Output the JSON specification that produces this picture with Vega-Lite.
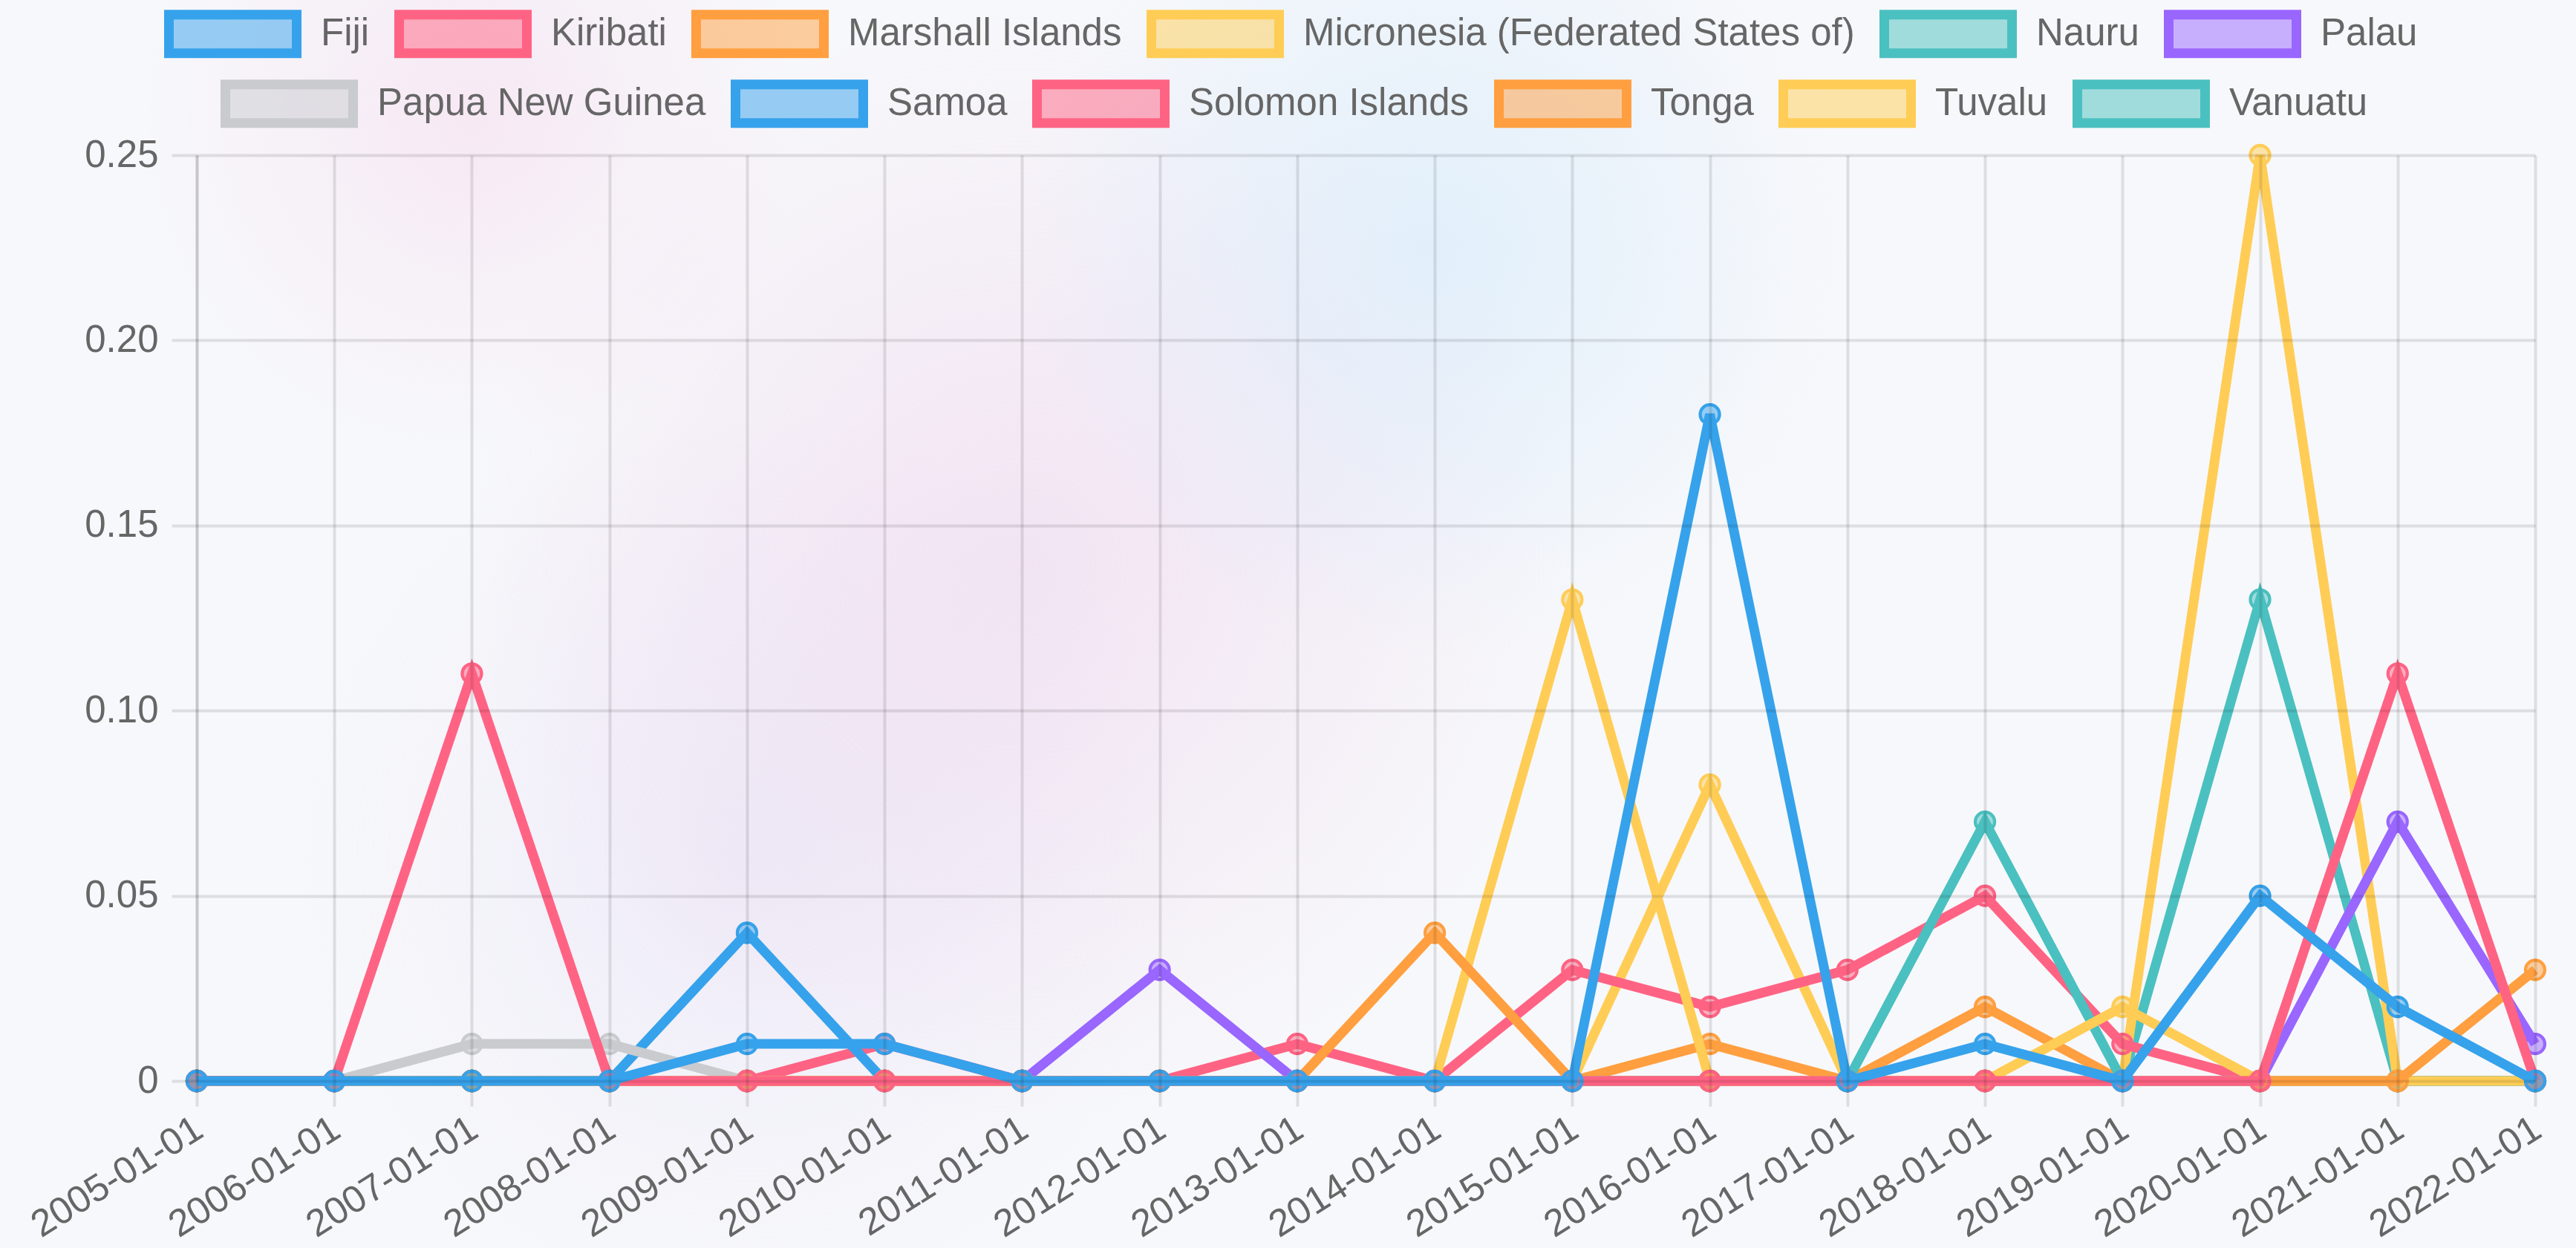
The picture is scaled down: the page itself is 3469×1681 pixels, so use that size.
{
  "$schema": "https://vega.github.io/schema/vega-lite/v6.json",
  "width": 3149,
  "height": 1247,
  "autosize": {"type": "none"},
  "padding": {"left": 265, "top": 209, "right": 55, "bottom": 225},
  "background": "#f7f8fb",
  "config": {
    "view": {"stroke": null},
    "font": "Liberation Sans"
  },
  "data": {
    "values": [
      {"c": "Fiji", "d": "2005-01-01", "v": 0}, {"c": "Fiji", "d": "2006-01-01", "v": 0}, {"c": "Fiji", "d": "2007-01-01", "v": 0}, {"c": "Fiji", "d": "2008-01-01", "v": 0}, {"c": "Fiji", "d": "2009-01-01", "v": 0.01}, {"c": "Fiji", "d": "2010-01-01", "v": 0.01}, {"c": "Fiji", "d": "2011-01-01", "v": 0}, {"c": "Fiji", "d": "2012-01-01", "v": 0}, {"c": "Fiji", "d": "2013-01-01", "v": 0}, {"c": "Fiji", "d": "2014-01-01", "v": 0}, {"c": "Fiji", "d": "2015-01-01", "v": 0}, {"c": "Fiji", "d": "2016-01-01", "v": 0.18}, {"c": "Fiji", "d": "2017-01-01", "v": 0}, {"c": "Fiji", "d": "2018-01-01", "v": 0.01}, {"c": "Fiji", "d": "2019-01-01", "v": 0}, {"c": "Fiji", "d": "2020-01-01", "v": 0.05}, {"c": "Fiji", "d": "2021-01-01", "v": 0.02}, {"c": "Fiji", "d": "2022-01-01", "v": 0},
      {"c": "Kiribati", "d": "2005-01-01", "v": 0}, {"c": "Kiribati", "d": "2006-01-01", "v": 0}, {"c": "Kiribati", "d": "2007-01-01", "v": 0.11}, {"c": "Kiribati", "d": "2008-01-01", "v": 0}, {"c": "Kiribati", "d": "2009-01-01", "v": 0}, {"c": "Kiribati", "d": "2010-01-01", "v": 0}, {"c": "Kiribati", "d": "2011-01-01", "v": 0}, {"c": "Kiribati", "d": "2012-01-01", "v": 0}, {"c": "Kiribati", "d": "2013-01-01", "v": 0}, {"c": "Kiribati", "d": "2014-01-01", "v": 0}, {"c": "Kiribati", "d": "2015-01-01", "v": 0}, {"c": "Kiribati", "d": "2016-01-01", "v": 0}, {"c": "Kiribati", "d": "2017-01-01", "v": 0}, {"c": "Kiribati", "d": "2018-01-01", "v": 0}, {"c": "Kiribati", "d": "2019-01-01", "v": 0}, {"c": "Kiribati", "d": "2020-01-01", "v": 0}, {"c": "Kiribati", "d": "2021-01-01", "v": 0.11}, {"c": "Kiribati", "d": "2022-01-01", "v": 0},
      {"c": "Marshall Islands", "d": "2005-01-01", "v": 0}, {"c": "Marshall Islands", "d": "2006-01-01", "v": 0}, {"c": "Marshall Islands", "d": "2007-01-01", "v": 0}, {"c": "Marshall Islands", "d": "2008-01-01", "v": 0}, {"c": "Marshall Islands", "d": "2009-01-01", "v": 0}, {"c": "Marshall Islands", "d": "2010-01-01", "v": 0}, {"c": "Marshall Islands", "d": "2011-01-01", "v": 0}, {"c": "Marshall Islands", "d": "2012-01-01", "v": 0}, {"c": "Marshall Islands", "d": "2013-01-01", "v": 0}, {"c": "Marshall Islands", "d": "2014-01-01", "v": 0.04}, {"c": "Marshall Islands", "d": "2015-01-01", "v": 0}, {"c": "Marshall Islands", "d": "2016-01-01", "v": 0}, {"c": "Marshall Islands", "d": "2017-01-01", "v": 0}, {"c": "Marshall Islands", "d": "2018-01-01", "v": 0}, {"c": "Marshall Islands", "d": "2019-01-01", "v": 0}, {"c": "Marshall Islands", "d": "2020-01-01", "v": 0}, {"c": "Marshall Islands", "d": "2021-01-01", "v": 0}, {"c": "Marshall Islands", "d": "2022-01-01", "v": 0.03},
      {"c": "Micronesia (Federated States of)", "d": "2005-01-01", "v": 0}, {"c": "Micronesia (Federated States of)", "d": "2006-01-01", "v": 0}, {"c": "Micronesia (Federated States of)", "d": "2007-01-01", "v": 0}, {"c": "Micronesia (Federated States of)", "d": "2008-01-01", "v": 0}, {"c": "Micronesia (Federated States of)", "d": "2009-01-01", "v": 0}, {"c": "Micronesia (Federated States of)", "d": "2010-01-01", "v": 0}, {"c": "Micronesia (Federated States of)", "d": "2011-01-01", "v": 0}, {"c": "Micronesia (Federated States of)", "d": "2012-01-01", "v": 0}, {"c": "Micronesia (Federated States of)", "d": "2013-01-01", "v": 0}, {"c": "Micronesia (Federated States of)", "d": "2014-01-01", "v": 0}, {"c": "Micronesia (Federated States of)", "d": "2015-01-01", "v": 0.13}, {"c": "Micronesia (Federated States of)", "d": "2016-01-01", "v": 0}, {"c": "Micronesia (Federated States of)", "d": "2017-01-01", "v": 0}, {"c": "Micronesia (Federated States of)", "d": "2018-01-01", "v": 0}, {"c": "Micronesia (Federated States of)", "d": "2019-01-01", "v": 0.02}, {"c": "Micronesia (Federated States of)", "d": "2020-01-01", "v": 0}, {"c": "Micronesia (Federated States of)", "d": "2021-01-01", "v": 0}, {"c": "Micronesia (Federated States of)", "d": "2022-01-01", "v": 0},
      {"c": "Nauru", "d": "2005-01-01", "v": 0}, {"c": "Nauru", "d": "2006-01-01", "v": 0}, {"c": "Nauru", "d": "2007-01-01", "v": 0}, {"c": "Nauru", "d": "2008-01-01", "v": 0}, {"c": "Nauru", "d": "2009-01-01", "v": 0}, {"c": "Nauru", "d": "2010-01-01", "v": 0}, {"c": "Nauru", "d": "2011-01-01", "v": 0}, {"c": "Nauru", "d": "2012-01-01", "v": 0}, {"c": "Nauru", "d": "2013-01-01", "v": 0}, {"c": "Nauru", "d": "2014-01-01", "v": 0}, {"c": "Nauru", "d": "2015-01-01", "v": 0}, {"c": "Nauru", "d": "2016-01-01", "v": 0}, {"c": "Nauru", "d": "2017-01-01", "v": 0}, {"c": "Nauru", "d": "2018-01-01", "v": 0.07}, {"c": "Nauru", "d": "2019-01-01", "v": 0}, {"c": "Nauru", "d": "2020-01-01", "v": 0}, {"c": "Nauru", "d": "2021-01-01", "v": 0}, {"c": "Nauru", "d": "2022-01-01", "v": 0},
      {"c": "Palau", "d": "2005-01-01", "v": 0}, {"c": "Palau", "d": "2006-01-01", "v": 0}, {"c": "Palau", "d": "2007-01-01", "v": 0}, {"c": "Palau", "d": "2008-01-01", "v": 0}, {"c": "Palau", "d": "2009-01-01", "v": 0}, {"c": "Palau", "d": "2010-01-01", "v": 0}, {"c": "Palau", "d": "2011-01-01", "v": 0}, {"c": "Palau", "d": "2012-01-01", "v": 0.03}, {"c": "Palau", "d": "2013-01-01", "v": 0}, {"c": "Palau", "d": "2014-01-01", "v": 0}, {"c": "Palau", "d": "2015-01-01", "v": 0}, {"c": "Palau", "d": "2016-01-01", "v": 0}, {"c": "Palau", "d": "2017-01-01", "v": 0}, {"c": "Palau", "d": "2018-01-01", "v": 0}, {"c": "Palau", "d": "2019-01-01", "v": 0}, {"c": "Palau", "d": "2020-01-01", "v": 0}, {"c": "Palau", "d": "2021-01-01", "v": 0.07}, {"c": "Palau", "d": "2022-01-01", "v": 0.01},
      {"c": "Papua New Guinea", "d": "2005-01-01", "v": 0}, {"c": "Papua New Guinea", "d": "2006-01-01", "v": 0}, {"c": "Papua New Guinea", "d": "2007-01-01", "v": 0.01}, {"c": "Papua New Guinea", "d": "2008-01-01", "v": 0.01}, {"c": "Papua New Guinea", "d": "2009-01-01", "v": 0}, {"c": "Papua New Guinea", "d": "2010-01-01", "v": 0}, {"c": "Papua New Guinea", "d": "2011-01-01", "v": 0}, {"c": "Papua New Guinea", "d": "2012-01-01", "v": 0}, {"c": "Papua New Guinea", "d": "2013-01-01", "v": 0}, {"c": "Papua New Guinea", "d": "2014-01-01", "v": 0}, {"c": "Papua New Guinea", "d": "2015-01-01", "v": 0}, {"c": "Papua New Guinea", "d": "2016-01-01", "v": 0}, {"c": "Papua New Guinea", "d": "2017-01-01", "v": 0}, {"c": "Papua New Guinea", "d": "2018-01-01", "v": 0}, {"c": "Papua New Guinea", "d": "2019-01-01", "v": 0}, {"c": "Papua New Guinea", "d": "2020-01-01", "v": 0}, {"c": "Papua New Guinea", "d": "2021-01-01", "v": 0}, {"c": "Papua New Guinea", "d": "2022-01-01", "v": 0},
      {"c": "Samoa", "d": "2005-01-01", "v": 0}, {"c": "Samoa", "d": "2006-01-01", "v": 0}, {"c": "Samoa", "d": "2007-01-01", "v": 0}, {"c": "Samoa", "d": "2008-01-01", "v": 0}, {"c": "Samoa", "d": "2009-01-01", "v": 0.04}, {"c": "Samoa", "d": "2010-01-01", "v": 0}, {"c": "Samoa", "d": "2011-01-01", "v": 0}, {"c": "Samoa", "d": "2012-01-01", "v": 0}, {"c": "Samoa", "d": "2013-01-01", "v": 0}, {"c": "Samoa", "d": "2014-01-01", "v": 0}, {"c": "Samoa", "d": "2015-01-01", "v": 0}, {"c": "Samoa", "d": "2016-01-01", "v": 0}, {"c": "Samoa", "d": "2017-01-01", "v": 0}, {"c": "Samoa", "d": "2018-01-01", "v": 0}, {"c": "Samoa", "d": "2019-01-01", "v": 0}, {"c": "Samoa", "d": "2020-01-01", "v": 0}, {"c": "Samoa", "d": "2021-01-01", "v": 0}, {"c": "Samoa", "d": "2022-01-01", "v": 0},
      {"c": "Solomon Islands", "d": "2005-01-01", "v": 0}, {"c": "Solomon Islands", "d": "2006-01-01", "v": 0}, {"c": "Solomon Islands", "d": "2007-01-01", "v": 0}, {"c": "Solomon Islands", "d": "2008-01-01", "v": 0}, {"c": "Solomon Islands", "d": "2009-01-01", "v": 0}, {"c": "Solomon Islands", "d": "2010-01-01", "v": 0.01}, {"c": "Solomon Islands", "d": "2011-01-01", "v": 0}, {"c": "Solomon Islands", "d": "2012-01-01", "v": 0}, {"c": "Solomon Islands", "d": "2013-01-01", "v": 0.01}, {"c": "Solomon Islands", "d": "2014-01-01", "v": 0}, {"c": "Solomon Islands", "d": "2015-01-01", "v": 0.03}, {"c": "Solomon Islands", "d": "2016-01-01", "v": 0.02}, {"c": "Solomon Islands", "d": "2017-01-01", "v": 0.03}, {"c": "Solomon Islands", "d": "2018-01-01", "v": 0.05}, {"c": "Solomon Islands", "d": "2019-01-01", "v": 0.01}, {"c": "Solomon Islands", "d": "2020-01-01", "v": 0}, {"c": "Solomon Islands", "d": "2021-01-01", "v": 0}, {"c": "Solomon Islands", "d": "2022-01-01", "v": 0},
      {"c": "Tonga", "d": "2005-01-01", "v": 0}, {"c": "Tonga", "d": "2006-01-01", "v": 0}, {"c": "Tonga", "d": "2007-01-01", "v": 0}, {"c": "Tonga", "d": "2008-01-01", "v": 0}, {"c": "Tonga", "d": "2009-01-01", "v": 0}, {"c": "Tonga", "d": "2010-01-01", "v": 0}, {"c": "Tonga", "d": "2011-01-01", "v": 0}, {"c": "Tonga", "d": "2012-01-01", "v": 0}, {"c": "Tonga", "d": "2013-01-01", "v": 0}, {"c": "Tonga", "d": "2014-01-01", "v": 0}, {"c": "Tonga", "d": "2015-01-01", "v": 0}, {"c": "Tonga", "d": "2016-01-01", "v": 0.01}, {"c": "Tonga", "d": "2017-01-01", "v": 0}, {"c": "Tonga", "d": "2018-01-01", "v": 0.02}, {"c": "Tonga", "d": "2019-01-01", "v": 0}, {"c": "Tonga", "d": "2020-01-01", "v": 0}, {"c": "Tonga", "d": "2021-01-01", "v": 0}, {"c": "Tonga", "d": "2022-01-01", "v": 0},
      {"c": "Tuvalu", "d": "2005-01-01", "v": 0}, {"c": "Tuvalu", "d": "2006-01-01", "v": 0}, {"c": "Tuvalu", "d": "2007-01-01", "v": 0}, {"c": "Tuvalu", "d": "2008-01-01", "v": 0}, {"c": "Tuvalu", "d": "2009-01-01", "v": 0}, {"c": "Tuvalu", "d": "2010-01-01", "v": 0}, {"c": "Tuvalu", "d": "2011-01-01", "v": 0}, {"c": "Tuvalu", "d": "2012-01-01", "v": 0}, {"c": "Tuvalu", "d": "2013-01-01", "v": 0}, {"c": "Tuvalu", "d": "2014-01-01", "v": 0}, {"c": "Tuvalu", "d": "2015-01-01", "v": 0}, {"c": "Tuvalu", "d": "2016-01-01", "v": 0.08}, {"c": "Tuvalu", "d": "2017-01-01", "v": 0}, {"c": "Tuvalu", "d": "2018-01-01", "v": 0}, {"c": "Tuvalu", "d": "2019-01-01", "v": 0}, {"c": "Tuvalu", "d": "2020-01-01", "v": 0.25}, {"c": "Tuvalu", "d": "2021-01-01", "v": 0}, {"c": "Tuvalu", "d": "2022-01-01", "v": 0},
      {"c": "Vanuatu", "d": "2005-01-01", "v": 0}, {"c": "Vanuatu", "d": "2006-01-01", "v": 0}, {"c": "Vanuatu", "d": "2007-01-01", "v": 0}, {"c": "Vanuatu", "d": "2008-01-01", "v": 0}, {"c": "Vanuatu", "d": "2009-01-01", "v": 0}, {"c": "Vanuatu", "d": "2010-01-01", "v": 0}, {"c": "Vanuatu", "d": "2011-01-01", "v": 0}, {"c": "Vanuatu", "d": "2012-01-01", "v": 0}, {"c": "Vanuatu", "d": "2013-01-01", "v": 0}, {"c": "Vanuatu", "d": "2014-01-01", "v": 0}, {"c": "Vanuatu", "d": "2015-01-01", "v": 0}, {"c": "Vanuatu", "d": "2016-01-01", "v": 0}, {"c": "Vanuatu", "d": "2017-01-01", "v": 0}, {"c": "Vanuatu", "d": "2018-01-01", "v": 0}, {"c": "Vanuatu", "d": "2019-01-01", "v": 0}, {"c": "Vanuatu", "d": "2020-01-01", "v": 0.13}, {"c": "Vanuatu", "d": "2021-01-01", "v": 0}, {"c": "Vanuatu", "d": "2022-01-01", "v": 0}
    ]
  },
  "encoding": {
    "x": {
      "field": "d", "type": "ordinal", "sort": null,
      "scale": {"type": "point", "padding": 0, "domain": ["2005-01-01", "2006-01-01", "2007-01-01", "2008-01-01", "2009-01-01", "2010-01-01", "2011-01-01", "2012-01-01", "2013-01-01", "2014-01-01", "2015-01-01", "2016-01-01", "2017-01-01", "2018-01-01", "2019-01-01", "2020-01-01", "2021-01-01", "2022-01-01"]},
      "axis": {
        "title": null, "zindex": 1, "grid": true, "gridColor": "#000000", "gridOpacity": 0.1, "gridWidth": 4,
        "domain": false, "ticks": true, "tickSize": 34, "tickColor": "#000000", "tickOpacity": 0.1, "tickWidth": 4,
        "labelAngle": -32, "labelAlign": "right", "labelBaseline": "top", "labelPadding": 5, "labelOffset": -10,
        "labelFont": "Liberation Sans", "labelFontSize": 51, "labelColor": "#666666", "labelOverlap": false, "labelLimit": 0
      }
    },
    "y": {
      "field": "v", "type": "quantitative",
      "scale": {"domain": [0, 0.25], "nice": false, "zero": true},
      "axis": {
        "title": null, "zindex": 1, "values": [0, 0.05, 0.1, 0.15, 0.2, 0.25],
        "labelExpr": "datum.value === 0 ? '0' : format(datum.value, '.2f')",
        "grid": true, "gridColor": "#000000", "gridOpacity": 0.1, "gridWidth": 4,
        "domain": true, "domainColor": "#000000", "domainOpacity": 0.1, "domainWidth": 4,
        "ticks": true, "tickSize": 34, "tickColor": "#000000", "tickOpacity": 0.1, "tickWidth": 4,
        "labelPadding": 18, "labelFont": "Liberation Sans", "labelFontSize": 51, "labelColor": "#666666"
      }
    }
  },
  "layer": [
    {
      "data": {"values": [{"d": "2007-01-01", "v": 0.26}]},
      "mark": {"type": "point", "shape": "circle", "size": 810000, "filled": true, "clip": false, "strokeWidth": 0, "opacity": 1,
        "fill": {"gradient": "radial", "stops": [{"offset": 0, "color": "rgba(246,214,236,0.45)"}, {"offset": 0.5, "color": "rgba(246,214,236,0.22)"}, {"offset": 1, "color": "rgba(246,214,236,0)"}]}}
    },
    {
      "data": {"values": [{"d": "2009-01-01", "v": 0.06}]},
      "mark": {"type": "point", "shape": "circle", "size": 1440000, "filled": true, "clip": false, "strokeWidth": 0, "opacity": 1,
        "fill": {"gradient": "radial", "stops": [{"offset": 0, "color": "rgba(222,212,242,0.35)"}, {"offset": 0.5, "color": "rgba(222,212,242,0.17)"}, {"offset": 1, "color": "rgba(222,212,242,0)"}]}}
    },
    {
      "data": {"values": [{"d": "2011-01-01", "v": 0.14}]},
      "mark": {"type": "point", "shape": "circle", "size": 2250000, "filled": true, "clip": false, "strokeWidth": 0, "opacity": 1,
        "fill": {"gradient": "radial", "stops": [{"offset": 0, "color": "rgba(236,204,232,0.45)"}, {"offset": 0.5, "color": "rgba(236,204,232,0.24)"}, {"offset": 1, "color": "rgba(236,204,232,0)"}]}}
    },
    {
      "data": {"values": [{"d": "2014-01-01", "v": 0.225}]},
      "mark": {"type": "point", "shape": "circle", "size": 1210000, "filled": true, "clip": false, "strokeWidth": 0, "opacity": 1,
        "fill": {"gradient": "radial", "stops": [{"offset": 0, "color": "rgba(205,231,250,0.5)"}, {"offset": 0.5, "color": "rgba(205,231,250,0.27)"}, {"offset": 1, "color": "rgba(205,231,250,0)"}]}}
    },
    {
      "encoding": {
        "color": {
          "field": "c", "type": "nominal",
          "scale": {"domain": ["Papua New Guinea", "Samoa", "Solomon Islands", "Tonga", "Tuvalu", "Vanuatu"], "range": ["#c9cbcf", "#36a2eb", "#ff6384", "#ff9f40", "#ffcd56", "#4bc0c0"]},
          "legend": {
            "title": null, "orient": "none", "legendX": 32, "legendY": -162, "direction": "horizontal", "padding": 0,
            "symbolType": "M-1,-0.302H1V0.302H-1Z", "symbolSize": 29584, "symbolStrokeWidth": 13,
            "labelFont": "Liberation Sans", "labelFontSize": 51, "labelColor": "#666666", "labelOffset": 26, "labelLimit": 3000,
            "columnPadding": 13,
            "encode": {"symbols": {"update": {
              "fill": {"signal": "['#36a2eb','#ff6384','#ff9f40','#ffcd56','#4bc0c0','#9966ff','#c9cbcf','#36a2eb','#ff6384','#ff9f40','#ffcd56','#4bc0c0'][indexof(['Fiji','Kiribati','Marshall Islands','Micronesia (Federated States of)','Nauru','Palau','Papua New Guinea','Samoa','Solomon Islands','Tonga','Tuvalu','Vanuatu'], datum.value)]"},
              "stroke": {"signal": "['#36a2eb','#ff6384','#ff9f40','#ffcd56','#4bc0c0','#9966ff','#c9cbcf','#36a2eb','#ff6384','#ff9f40','#ffcd56','#4bc0c0'][indexof(['Fiji','Kiribati','Marshall Islands','Micronesia (Federated States of)','Nauru','Palau','Papua New Guinea','Samoa','Solomon Islands','Tonga','Tuvalu','Vanuatu'], datum.value)]"},
              "fillOpacity": {"value": 0.5}, "strokeOpacity": {"value": 1}, "opacity": {"value": 1}, "strokeWidth": {"value": 13}
            }}}
          }
        }
      },
      "layer": [
        {"transform": [{"filter": "datum.c === 'Vanuatu'"}], "layer": [
          {"mark": {"type": "line", "strokeWidth": 13}},
          {"mark": {"type": "point", "shape": "circle", "size": 676, "filled": true, "fill": "#4bc0c0", "fillOpacity": 0.5, "stroke": "#4bc0c0", "strokeWidth": 4.3, "opacity": 1}}
        ]},
        {"transform": [{"filter": "datum.c === 'Tuvalu'"}], "layer": [
          {"mark": {"type": "line", "strokeWidth": 13}},
          {"mark": {"type": "point", "shape": "circle", "size": 676, "filled": true, "fill": "#ffcd56", "fillOpacity": 0.5, "stroke": "#ffcd56", "strokeWidth": 4.3, "opacity": 1}}
        ]},
        {"transform": [{"filter": "datum.c === 'Tonga'"}], "layer": [
          {"mark": {"type": "line", "strokeWidth": 13}},
          {"mark": {"type": "point", "shape": "circle", "size": 676, "filled": true, "fill": "#ff9f40", "fillOpacity": 0.5, "stroke": "#ff9f40", "strokeWidth": 4.3, "opacity": 1}}
        ]},
        {"transform": [{"filter": "datum.c === 'Solomon Islands'"}], "layer": [
          {"mark": {"type": "line", "strokeWidth": 13}},
          {"mark": {"type": "point", "shape": "circle", "size": 676, "filled": true, "fill": "#ff6384", "fillOpacity": 0.5, "stroke": "#ff6384", "strokeWidth": 4.3, "opacity": 1}}
        ]},
        {"transform": [{"filter": "datum.c === 'Samoa'"}], "layer": [
          {"mark": {"type": "line", "strokeWidth": 13}},
          {"mark": {"type": "point", "shape": "circle", "size": 676, "filled": true, "fill": "#36a2eb", "fillOpacity": 0.5, "stroke": "#36a2eb", "strokeWidth": 4.3, "opacity": 1}}
        ]},
        {"transform": [{"filter": "datum.c === 'Papua New Guinea'"}], "layer": [
          {"mark": {"type": "line", "strokeWidth": 13}},
          {"mark": {"type": "point", "shape": "circle", "size": 676, "filled": true, "fill": "#c9cbcf", "fillOpacity": 0.5, "stroke": "#c9cbcf", "strokeWidth": 4.3, "opacity": 1}}
        ]}
      ]
    },
    {
      "encoding": {
        "color": {
          "field": "c", "type": "nominal",
          "scale": {"domain": ["Fiji", "Kiribati", "Marshall Islands", "Micronesia (Federated States of)", "Nauru", "Palau"], "range": ["#36a2eb", "#ff6384", "#ff9f40", "#ffcd56", "#4bc0c0", "#9966ff"]},
          "legend": {
            "title": null, "orient": "none", "legendX": -44, "legendY": -256, "direction": "horizontal", "padding": 0,
            "symbolType": "M-1,-0.302H1V0.302H-1Z", "symbolSize": 29584, "symbolStrokeWidth": 13,
            "labelFont": "Liberation Sans", "labelFontSize": 51, "labelColor": "#666666", "labelOffset": 26, "labelLimit": 3000,
            "columnPadding": 13,
            "encode": {"symbols": {"update": {
              "fill": {"signal": "['#36a2eb','#ff6384','#ff9f40','#ffcd56','#4bc0c0','#9966ff','#c9cbcf','#36a2eb','#ff6384','#ff9f40','#ffcd56','#4bc0c0'][indexof(['Fiji','Kiribati','Marshall Islands','Micronesia (Federated States of)','Nauru','Palau','Papua New Guinea','Samoa','Solomon Islands','Tonga','Tuvalu','Vanuatu'], datum.value)]"},
              "stroke": {"signal": "['#36a2eb','#ff6384','#ff9f40','#ffcd56','#4bc0c0','#9966ff','#c9cbcf','#36a2eb','#ff6384','#ff9f40','#ffcd56','#4bc0c0'][indexof(['Fiji','Kiribati','Marshall Islands','Micronesia (Federated States of)','Nauru','Palau','Papua New Guinea','Samoa','Solomon Islands','Tonga','Tuvalu','Vanuatu'], datum.value)]"},
              "fillOpacity": {"value": 0.5}, "strokeOpacity": {"value": 1}, "opacity": {"value": 1}, "strokeWidth": {"value": 13}
            }}}
          }
        }
      },
      "layer": [
        {"transform": [{"filter": "datum.c === 'Palau'"}], "layer": [
          {"mark": {"type": "line", "strokeWidth": 13}},
          {"mark": {"type": "point", "shape": "circle", "size": 676, "filled": true, "fill": "#9966ff", "fillOpacity": 0.5, "stroke": "#9966ff", "strokeWidth": 4.3, "opacity": 1}}
        ]},
        {"transform": [{"filter": "datum.c === 'Nauru'"}], "layer": [
          {"mark": {"type": "line", "strokeWidth": 13}},
          {"mark": {"type": "point", "shape": "circle", "size": 676, "filled": true, "fill": "#4bc0c0", "fillOpacity": 0.5, "stroke": "#4bc0c0", "strokeWidth": 4.3, "opacity": 1}}
        ]},
        {"transform": [{"filter": "datum.c === 'Micronesia (Federated States of)'"}], "layer": [
          {"mark": {"type": "line", "strokeWidth": 13}},
          {"mark": {"type": "point", "shape": "circle", "size": 676, "filled": true, "fill": "#ffcd56", "fillOpacity": 0.5, "stroke": "#ffcd56", "strokeWidth": 4.3, "opacity": 1}}
        ]},
        {"transform": [{"filter": "datum.c === 'Marshall Islands'"}], "layer": [
          {"mark": {"type": "line", "strokeWidth": 13}},
          {"mark": {"type": "point", "shape": "circle", "size": 676, "filled": true, "fill": "#ff9f40", "fillOpacity": 0.5, "stroke": "#ff9f40", "strokeWidth": 4.3, "opacity": 1}}
        ]},
        {"transform": [{"filter": "datum.c === 'Kiribati'"}], "layer": [
          {"mark": {"type": "line", "strokeWidth": 13}},
          {"mark": {"type": "point", "shape": "circle", "size": 676, "filled": true, "fill": "#ff6384", "fillOpacity": 0.5, "stroke": "#ff6384", "strokeWidth": 4.3, "opacity": 1}}
        ]},
        {"transform": [{"filter": "datum.c === 'Fiji'"}], "layer": [
          {"mark": {"type": "line", "strokeWidth": 13}},
          {"mark": {"type": "point", "shape": "circle", "size": 676, "filled": true, "fill": "#36a2eb", "fillOpacity": 0.5, "stroke": "#36a2eb", "strokeWidth": 4.3, "opacity": 1}}
        ]}
      ]
    }
  ],
  "resolve": {"scale": {"color": "independent"}, "legend": {"color": "independent"}}
}
